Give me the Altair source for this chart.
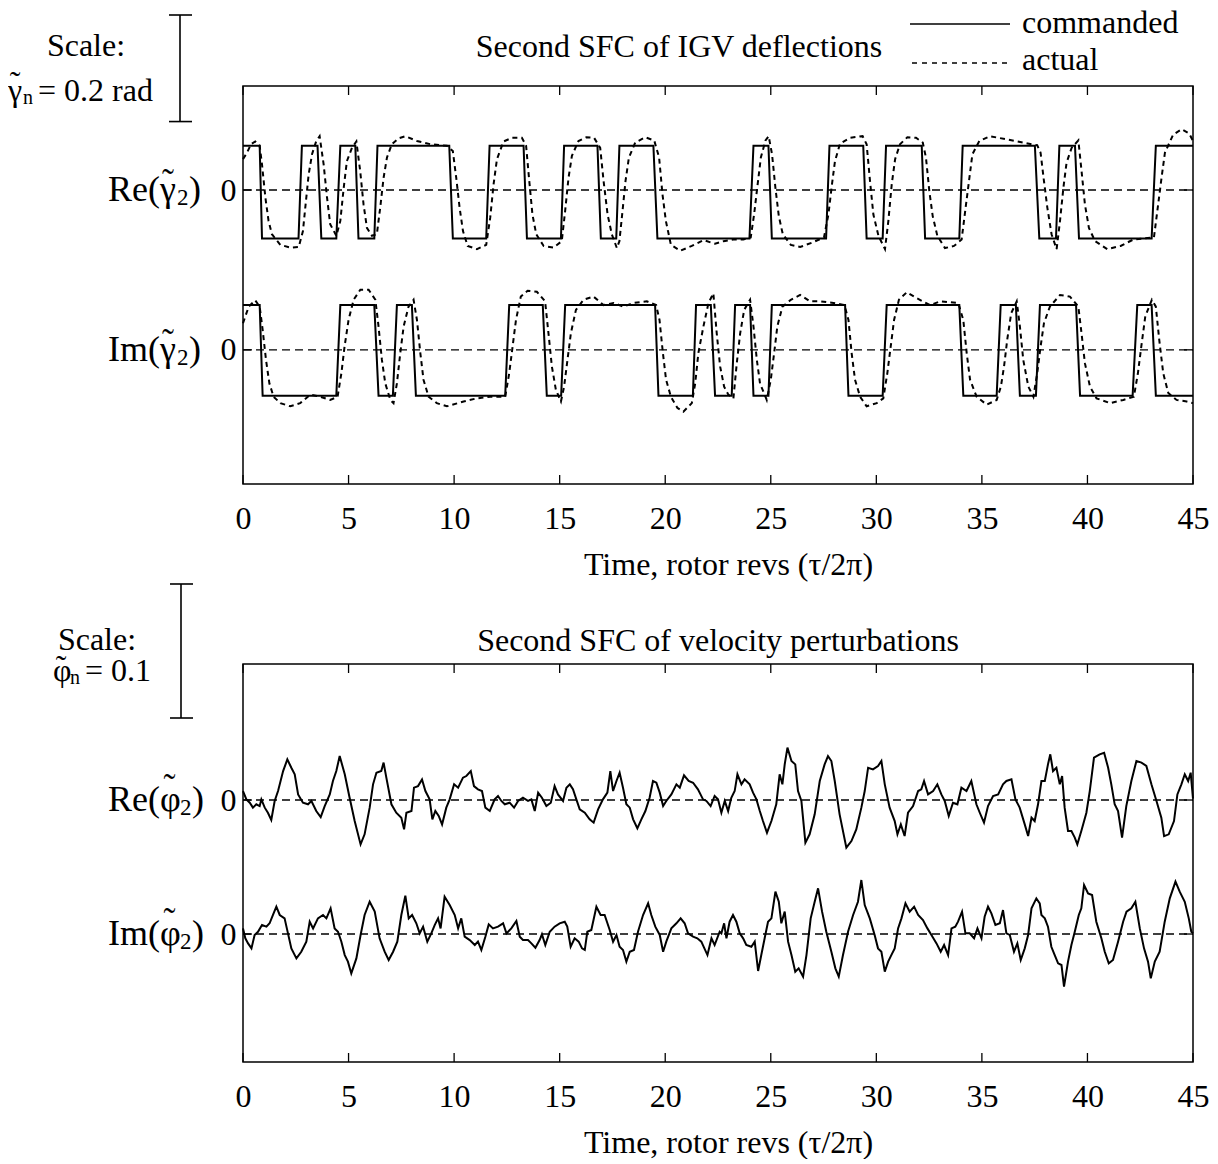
import altair as alt
import pandas as pd

FONT = "Liberation Serif"
FS = 32

# ---------------- top panel: second SFC of IGV deflections (rad) ----------------
RE_HIGH, RE_LOW = 0.083, -0.091
IM_HIGH, IM_LOW = 0.084, -0.086
IGV_IM_OFFSET = -0.30

# commanded square waves: (ramp start, ramp end) of every switch; both start high
re_cmd_switches = [(0.79, 0.90), (2.63, 2.79), (3.53, 3.71), (4.42, 4.61), (5.32, 5.47),
                   (6.22, 6.37), (9.77, 9.94), (11.52, 11.68), (13.29, 13.45), (15.06, 15.21),
                   (16.79, 16.95), (17.68, 17.83), (19.44, 19.63), (23.99, 24.18), (24.89, 25.05),
                   (27.62, 27.78), (29.38, 29.54), (30.30, 30.46), (32.15, 32.31), (33.93, 34.09),
                   (37.51, 37.72), (38.51, 38.67), (39.41, 39.60), (43.04, 43.24)]
im_cmd_switches = [(0.79, 0.93), (4.42, 4.61), (6.22, 6.42), (7.10, 7.29), (8.00, 8.19),
                   (12.42, 12.61), (14.20, 14.39), (15.07, 15.26), (19.52, 19.68), (21.31, 21.46),
                   (22.16, 22.36), (23.15, 23.31), (24.02, 24.18), (24.89, 25.05), (28.52, 28.68),
                   (30.30, 30.49), (33.93, 34.12), (35.70, 35.89), (36.61, 36.80), (37.56, 37.75),
                   (39.46, 39.65), (42.14, 42.36), (43.04, 43.24)]

re_act = [(0.0, 0.058), (0.19, 0.070), (0.38, 0.086), (0.58, 0.091), (0.79, 0.083), (0.90, 0.048),
          (1.06, -0.014), (1.21, -0.058), (1.37, -0.083), (1.77, -0.103), (2.24, -0.108), (2.64, -0.107),
          (2.84, -0.077), (2.95, -0.033), (3.11, 0.029), (3.27, 0.067), (3.47, 0.092), (3.63, 0.101),
          (3.82, 0.048), (3.98, -0.014), (4.13, -0.064), (4.42, -0.086), (4.61, -0.058), (4.77, 0.004),
          (4.92, 0.054), (5.16, 0.079), (5.37, 0.091), (5.55, 0.036), (5.71, -0.027), (5.87, -0.071),
          (6.11, -0.086), (6.34, -0.083), (6.50, -0.033), (6.66, 0.023), (6.82, 0.061), (7.05, 0.086),
          (7.37, 0.097), (7.69, 0.101), (8.24, 0.092), (8.87, 0.086), (9.66, 0.083), (9.94, 0.073),
          (10.10, 0.023), (10.26, -0.033), (10.42, -0.077), (10.64, -0.105), (11.08, -0.111), (11.52, -0.103),
          (11.71, -0.052), (11.87, 0.011), (12.03, 0.058), (12.34, 0.091), (12.74, 0.098), (13.21, 0.098),
          (13.41, 0.083), (13.56, 0.017), (13.71, -0.046), (13.89, -0.083), (14.24, -0.105), (14.71, -0.108),
          (15.10, -0.096), (15.26, -0.039), (15.42, 0.023), (15.58, 0.064), (15.89, 0.092), (16.26, 0.099),
          (16.63, 0.098), (16.92, 0.079), (17.08, 0.017), (17.27, -0.046), (17.47, -0.083), (17.71, -0.109),
          (17.83, -0.096), (17.96, -0.046), (18.12, 0.017), (18.28, 0.061), (18.58, 0.089), (19.05, 0.099),
          (19.48, 0.093), (19.71, 0.061), (19.87, -0.008), (20.03, -0.058), (20.27, -0.103), (20.71, -0.114),
          (21.26, -0.105), (21.81, -0.094), (22.36, -0.101), (22.76, -0.096), (23.23, -0.093), (23.70, -0.093),
          (24.05, -0.089), (24.21, -0.046), (24.37, 0.008), (24.53, 0.061), (24.75, 0.093), (24.90, 0.101),
          (25.06, 0.067), (25.22, 0.004), (25.38, -0.049), (25.57, -0.083), (25.95, -0.103), (26.39, -0.107),
          (26.94, -0.099), (27.52, -0.089), (27.73, -0.046), (27.89, 0.008), (28.04, 0.054), (28.28, 0.087),
          (28.75, 0.098), (29.35, 0.101), (29.54, 0.086), (29.70, 0.017), (29.86, -0.046), (30.10, -0.086),
          (30.41, -0.111), (30.57, -0.058), (30.73, 0.011), (30.89, 0.058), (31.12, 0.086), (31.47, 0.099),
          (31.88, 0.098), (32.20, 0.089), (32.35, 0.061), (32.51, -0.002), (32.67, -0.049), (32.89, -0.086),
          (33.25, -0.109), (33.68, -0.105), (34.04, -0.093), (34.23, -0.033), (34.39, 0.017), (34.55, 0.067),
          (34.88, 0.092), (35.38, 0.101), (36.17, 0.095), (36.96, 0.089), (37.62, 0.084), (37.78, 0.070),
          (37.94, 0.017), (38.10, -0.033), (38.30, -0.083), (38.54, -0.111), (38.70, -0.058), (38.86, 0.004),
          (39.01, 0.051), (39.25, 0.079), (39.57, 0.093), (39.72, 0.036), (39.88, -0.027), (40.07, -0.071),
          (40.36, -0.096), (40.94, -0.111), (41.57, -0.105), (42.17, -0.093), (43.15, -0.089), (43.35, -0.027),
          (43.51, 0.023), (43.67, 0.070), (44.06, 0.104), (44.46, 0.114), (44.82, 0.106), (45.0, 0.092)]

im_act = [(0.0, 0.050), (0.27, 0.081), (0.58, 0.093), (0.79, 0.081), (0.93, 0.038), (1.09, -0.019),
          (1.25, -0.063), (1.45, -0.088), (1.77, -0.100), (2.24, -0.106), (2.71, -0.100), (3.19, -0.084),
          (3.66, -0.088), (4.13, -0.094), (4.48, -0.088), (4.66, -0.044), (4.81, 0.006), (5.00, 0.056),
          (5.24, 0.094), (5.56, 0.113), (5.95, 0.113), (6.27, 0.094), (6.42, 0.044), (6.58, -0.019),
          (6.74, -0.063), (6.98, -0.094), (7.13, -0.100), (7.29, -0.063), (7.45, -0.006), (7.61, 0.044),
          (7.84, 0.081), (8.08, 0.094), (8.24, 0.056), (8.40, -0.006), (8.55, -0.056), (8.79, -0.088),
          (9.18, -0.100), (9.66, -0.106), (10.45, -0.097), (11.08, -0.091), (11.71, -0.088), (12.42, -0.088),
          (12.61, -0.044), (12.77, 0.006), (12.93, 0.056), (13.16, 0.100), (13.48, 0.111), (13.92, 0.109),
          (14.31, 0.091), (14.47, 0.031), (14.63, -0.031), (14.82, -0.075), (15.06, -0.097), (15.21, -0.069),
          (15.37, -0.019), (15.53, 0.031), (15.77, 0.075), (16.13, 0.094), (16.60, 0.100), (17.08, 0.084),
          (17.55, 0.088), (18.02, 0.081), (18.50, 0.088), (19.13, 0.091), (19.57, 0.084), (19.73, 0.056),
          (19.89, -0.006), (20.04, -0.056), (20.27, -0.088), (20.58, -0.109), (20.86, -0.116), (21.26, -0.100),
          (21.42, -0.063), (21.57, -0.006), (21.81, 0.044), (22.05, 0.088), (22.28, 0.106), (22.44, 0.031),
          (22.60, -0.031), (22.79, -0.069), (22.99, -0.084), (23.23, -0.091), (23.39, -0.025), (23.55, 0.031),
          (23.74, 0.075), (24.02, 0.094), (24.18, 0.044), (24.34, -0.019), (24.49, -0.063), (24.81, -0.094),
          (25.00, -0.056), (25.16, -0.006), (25.31, 0.044), (25.55, 0.081), (25.95, 0.094), (26.39, 0.103),
          (26.86, 0.091), (27.33, 0.091), (27.97, 0.088), (28.49, 0.084), (28.68, 0.056), (28.83, -0.006),
          (28.99, -0.056), (29.23, -0.088), (29.54, -0.106), (30.02, -0.100), (30.33, -0.091), (30.52, -0.044),
          (30.68, 0.006), (30.84, 0.056), (31.07, 0.094), (31.44, 0.108), (31.91, 0.097), (32.54, 0.084),
          (33.02, 0.091), (33.88, 0.088), (34.12, 0.056), (34.28, -0.006), (34.44, -0.056), (34.75, -0.088),
          (35.23, -0.103), (35.70, -0.094), (35.90, -0.069), (36.05, -0.031), (36.20, 0.019), (36.39, 0.069),
          (36.65, 0.091), (36.80, 0.044), (36.96, -0.019), (37.20, -0.069), (37.44, -0.088), (37.62, -0.044),
          (37.78, 0.006), (37.94, 0.050), (38.22, 0.081), (38.70, 0.103), (39.17, 0.100), (39.57, 0.081),
          (39.72, 0.031), (39.88, -0.025), (40.12, -0.069), (40.43, -0.091), (41.07, -0.100), (41.70, -0.094),
          (42.20, -0.088), (42.39, -0.044), (42.55, 0.006), (42.74, 0.063), (43.05, 0.094), (43.24, 0.081),
          (43.40, 0.019), (43.59, -0.044), (43.83, -0.081), (44.22, -0.094), (44.70, -0.097), (45.0, -0.100)]

# ---------------- bottom panel: second SFC of velocity perturbations ----------------
PHI_IM_OFFSET = -0.10

phi_re = [(0.00, 0.0067), (0.16, 0.0005), (0.32, -0.0020), (0.47, -0.0057), (0.63, -0.0032), (0.79, -0.0045),
          (0.87, 0.0005), (1.03, -0.0057), (1.18, -0.0095), (1.34, -0.0149), (1.50, -0.0007), (1.66, 0.0067),
          (1.90, 0.0216), (2.10, 0.0303), (2.29, 0.0241), (2.45, 0.0192), (2.61, 0.0042), (2.84, -0.0020),
          (3.08, -0.0032), (3.24, -0.0007), (3.47, -0.0082), (3.68, -0.0127), (3.87, -0.0045), (4.11, 0.0042),
          (4.26, 0.0142), (4.42, 0.0216), (4.58, 0.0328), (4.82, 0.0192), (5.05, 0.0017), (5.29, -0.0157),
          (5.57, -0.0331), (5.76, -0.0256), (6.00, -0.0057), (6.16, 0.0117), (6.32, 0.0204), (6.55, 0.0216),
          (6.66, 0.0279), (6.79, 0.0167), (7.03, -0.0032), (7.26, -0.0095), (7.50, -0.0132), (7.63, -0.0219),
          (7.74, -0.0095), (7.98, -0.0082), (8.10, 0.0092), (8.29, 0.0104), (8.48, 0.0154), (8.64, 0.0067),
          (8.84, 0.0005), (8.97, -0.0144), (9.11, -0.0082), (9.27, -0.0119), (9.43, -0.0182), (9.63, -0.0057),
          (9.79, 0.0005), (10.00, 0.0117), (10.19, 0.0092), (10.42, 0.0167), (10.58, 0.0179), (10.79, 0.0216),
          (10.94, 0.0104), (11.13, 0.0080), (11.32, 0.0067), (11.48, -0.0057), (11.69, -0.0082), (11.92, 0.0005),
          (12.08, 0.0030), (12.24, -0.0007), (12.40, -0.0032), (12.63, -0.0020), (12.84, -0.0057), (13.03, -0.0007),
          (13.26, 0.0017), (13.50, -0.0007), (13.66, 0.0005), (13.82, -0.0082), (13.98, 0.0055), (14.16, 0.0017),
          (14.37, -0.0045), (14.58, -0.0020), (14.76, 0.0104), (14.92, 0.0042), (15.16, -0.0007), (15.32, 0.0092),
          (15.48, 0.0117), (15.63, 0.0080), (15.79, 0.0005), (15.95, -0.0070), (16.19, -0.0095), (16.42, -0.0144),
          (16.61, -0.0169), (16.82, -0.0070), (17.05, 0.0005), (17.26, 0.0055), (17.40, 0.0216), (17.53, 0.0067),
          (17.69, 0.0142), (17.84, 0.0204), (18.00, 0.0092), (18.16, -0.0032), (18.32, -0.0057), (18.48, -0.0144),
          (18.68, -0.0211), (18.87, -0.0144), (19.06, -0.0082), (19.26, 0.0017), (19.42, 0.0142), (19.58, 0.0129),
          (19.74, 0.0055), (19.90, -0.0045), (20.05, -0.0007), (20.29, 0.0042), (20.53, 0.0117), (20.69, 0.0092),
          (20.89, 0.0184), (21.11, 0.0142), (21.32, 0.0129), (21.55, 0.0080), (21.79, 0.0005), (21.95, -0.0007),
          (22.15, -0.0045), (22.34, 0.0030), (22.50, 0.0005), (22.66, -0.0095), (22.82, -0.0007), (22.98, -0.0082),
          (23.13, 0.0017), (23.29, 0.0067), (23.42, 0.0192), (23.61, 0.0117), (23.76, 0.0154), (24.00, 0.0117),
          (24.16, 0.0055), (24.32, 0.0005), (24.48, -0.0082), (24.63, -0.0157), (24.82, -0.0244), (25.03, -0.0157),
          (25.26, -0.0032), (25.42, 0.0192), (25.55, 0.0117), (25.66, 0.0266), (25.79, 0.0391), (25.98, 0.0291),
          (26.16, 0.0266), (26.29, 0.0067), (26.45, -0.0007), (26.64, -0.0318), (26.84, -0.0256), (27.08, -0.0107),
          (27.32, 0.0142), (27.55, 0.0266), (27.71, 0.0328), (27.87, 0.0291), (28.03, 0.0142), (28.26, -0.0107),
          (28.58, -0.0356), (28.82, -0.0306), (29.05, -0.0219), (29.29, -0.0057), (29.45, 0.0067), (29.61, 0.0241),
          (29.84, 0.0229), (30.08, 0.0254), (30.24, 0.0291), (30.40, 0.0117), (30.63, -0.0057), (30.87, -0.0157),
          (31.00, -0.0256), (31.16, -0.0182), (31.34, -0.0269), (31.50, -0.0095), (31.74, -0.0045), (31.98, 0.0067),
          (32.13, 0.0080), (32.26, 0.0142), (32.45, 0.0042), (32.69, 0.0067), (32.89, 0.0117), (33.08, 0.0042),
          (33.24, -0.0007), (33.43, -0.0119), (33.63, -0.0020), (33.84, -0.0032), (34.03, 0.0092), (34.27, 0.0067),
          (34.50, 0.0142), (34.74, -0.0032), (34.90, -0.0095), (35.10, -0.0169), (35.29, -0.0045), (35.53, 0.0030),
          (35.77, 0.0042), (36.00, 0.0117), (36.16, 0.0142), (36.40, 0.0154), (36.59, 0.0005), (36.79, -0.0057),
          (37.03, -0.0182), (37.19, -0.0269), (37.35, -0.0132), (37.50, -0.0157), (37.66, -0.0032), (37.82, 0.0142),
          (37.98, 0.0142), (38.13, 0.0266), (38.24, 0.0341), (38.37, 0.0216), (38.53, 0.0241), (38.69, 0.0117),
          (38.80, 0.0179), (38.92, -0.0057), (39.08, -0.0231), (39.24, -0.0231), (39.40, -0.0281), (39.52, -0.0331),
          (39.71, -0.0231), (39.95, -0.0095), (40.11, 0.0067), (40.31, 0.0316), (40.58, 0.0341), (40.79, 0.0353),
          (40.98, 0.0241), (41.13, 0.0117), (41.29, -0.0032), (41.45, -0.0082), (41.64, -0.0281), (41.84, -0.0045),
          (42.08, 0.0142), (42.32, 0.0291), (42.56, 0.0279), (42.79, 0.0254), (43.03, 0.0117), (43.27, -0.0007),
          (43.50, -0.0132), (43.63, -0.0269), (43.85, -0.0256), (44.10, -0.0157), (44.26, 0.0042), (44.45, 0.0117),
          (44.61, 0.0192), (44.77, 0.0142), (44.89, 0.0204), (45.00, 0.0010)]

phi_im = [(0.00, 0.0042), (0.11, -0.0032), (0.24, -0.0070), (0.40, -0.0107), (0.55, -0.0007), (0.71, 0.0017),
          (0.90, 0.0067), (1.11, 0.0055), (1.26, 0.0080), (1.42, 0.0142), (1.58, 0.0204), (1.74, 0.0142),
          (1.97, 0.0117), (2.13, 0.0005), (2.29, -0.0107), (2.53, -0.0182), (2.76, -0.0132), (3.00, -0.0057),
          (3.16, 0.0092), (3.32, 0.0042), (3.55, 0.0117), (3.79, 0.0142), (3.95, 0.0117), (4.15, 0.0192),
          (4.34, 0.0042), (4.50, 0.0017), (4.66, -0.0057), (4.82, -0.0157), (4.97, -0.0206), (5.13, -0.0294),
          (5.37, -0.0182), (5.57, -0.0007), (5.76, 0.0142), (6.00, 0.0241), (6.24, 0.0167), (6.47, -0.0032),
          (6.71, -0.0132), (6.90, -0.0194), (7.11, -0.0132), (7.31, -0.0057), (7.50, 0.0142), (7.69, 0.0286),
          (7.85, 0.0117), (8.01, 0.0142), (8.21, 0.0080), (8.37, 0.0005), (8.53, 0.0055), (8.73, -0.0057),
          (8.92, 0.0005), (9.08, 0.0067), (9.24, 0.0117), (9.36, 0.0042), (9.55, 0.0279), (9.79, 0.0216),
          (10.03, 0.0142), (10.19, 0.0042), (10.34, 0.0117), (10.50, -0.0020), (10.74, -0.0045), (10.98, -0.0082),
          (11.13, -0.0057), (11.29, -0.0119), (11.48, -0.0020), (11.64, 0.0072), (11.84, 0.0042), (12.08, 0.0055),
          (12.32, 0.0080), (12.48, 0.0005), (12.71, 0.0042), (12.95, 0.0097), (13.11, -0.0020), (13.26, -0.0045),
          (13.50, -0.0045), (13.66, -0.0070), (13.85, -0.0102), (14.05, -0.0045), (14.16, -0.0002), (14.32, -0.0082),
          (14.53, 0.0017), (14.76, 0.0055), (15.00, 0.0080), (15.24, 0.0092), (15.36, 0.0055), (15.52, -0.0095),
          (15.71, -0.0032), (15.90, -0.0057), (16.06, -0.0107), (16.19, -0.0119), (16.31, 0.0017), (16.50, 0.0030),
          (16.74, 0.0204), (16.94, 0.0142), (17.13, 0.0142), (17.37, 0.0030), (17.53, -0.0057), (17.69, -0.0007),
          (17.84, -0.0095), (18.00, -0.0119), (18.16, -0.0206), (18.32, -0.0132), (18.52, -0.0119), (18.71, 0.0017),
          (18.95, 0.0142), (19.19, 0.0229), (19.34, 0.0142), (19.53, 0.0055), (19.74, -0.0007), (19.90, -0.0132),
          (20.05, -0.0057), (20.29, 0.0042), (20.53, 0.0080), (20.73, 0.0117), (20.92, 0.0080), (21.08, 0.0005),
          (21.32, -0.0020), (21.52, -0.0032), (21.71, -0.0057), (22.00, -0.0157), (22.19, -0.0032), (22.34, -0.0082),
          (22.58, 0.0017), (22.66, 0.0005), (22.79, 0.0080), (22.90, -0.0032), (23.05, 0.0092), (23.21, 0.0142),
          (23.37, 0.0092), (23.53, 0.0005), (23.69, -0.0032), (23.84, -0.0082), (24.08, -0.0095), (24.24, -0.0057),
          (24.40, -0.0276), (24.55, -0.0157), (24.71, -0.0032), (24.87, 0.0092), (25.03, 0.0117), (25.22, 0.0316),
          (25.38, 0.0241), (25.50, 0.0080), (25.66, 0.0167), (25.82, -0.0057), (25.98, -0.0157), (26.16, -0.0281),
          (26.32, -0.0256), (26.53, -0.0318), (26.69, -0.0157), (26.89, 0.0117), (27.08, 0.0241), (27.24, 0.0341),
          (27.43, 0.0167), (27.63, 0.0017), (27.87, -0.0132), (28.06, -0.0256), (28.22, -0.0318), (28.42, -0.0157),
          (28.66, 0.0017), (28.90, 0.0142), (29.13, 0.0241), (29.29, 0.0403), (29.45, 0.0216), (29.69, 0.0117),
          (29.92, -0.0007), (30.08, -0.0107), (30.24, -0.0132), (30.40, -0.0281), (30.56, -0.0206), (30.71, -0.0157),
          (30.87, -0.0107), (31.03, 0.0042), (31.19, 0.0117), (31.38, 0.0229), (31.58, 0.0167), (31.79, 0.0204),
          (31.98, 0.0142), (32.21, 0.0104), (32.42, 0.0042), (32.61, -0.0007), (32.85, -0.0070), (33.05, -0.0132),
          (33.21, -0.0082), (33.40, -0.0157), (33.56, 0.0042), (33.74, 0.0055), (33.87, 0.0092), (34.06, 0.0167),
          (34.22, 0.0005), (34.42, 0.0005), (34.63, -0.0032), (34.79, 0.0042), (34.98, -0.0032), (35.13, 0.0129),
          (35.29, 0.0204), (35.45, 0.0154), (35.64, 0.0067), (35.85, 0.0080), (36.00, 0.0179), (36.16, 0.0005),
          (36.32, -0.0007), (36.52, -0.0132), (36.68, -0.0070), (36.84, -0.0194), (37.03, -0.0107), (37.19, -0.0007),
          (37.35, 0.0192), (37.58, 0.0266), (37.74, 0.0229), (37.82, 0.0142), (37.98, 0.0117), (38.13, 0.0055),
          (38.29, -0.0095), (38.45, -0.0157), (38.61, -0.0219), (38.77, -0.0231), (38.89, -0.0393), (39.08, -0.0206),
          (39.24, -0.0082), (39.40, 0.0017), (39.59, 0.0142), (39.71, 0.0192), (39.84, 0.0366), (40.03, 0.0303),
          (40.22, 0.0291), (40.42, 0.0092), (40.66, -0.0032), (40.82, -0.0132), (41.01, -0.0219), (41.21, -0.0194),
          (41.45, -0.0057), (41.69, 0.0092), (41.85, 0.0167), (42.08, 0.0192), (42.27, 0.0241), (42.48, 0.0042),
          (42.68, -0.0107), (42.87, -0.0206), (43.00, -0.0331), (43.19, -0.0206), (43.42, -0.0132), (43.66, 0.0092),
          (43.90, 0.0266), (44.17, 0.0391), (44.37, 0.0316), (44.61, 0.0241), (44.80, 0.0117), (44.92, 0.0017),
          (45.00, 0.0005)]

x_ticks = [0, 5, 10, 15, 20, 25, 30, 35, 40, 45]
IGV_SCALE = 0.2      # rad, scale bar of top panel
PHI_SCALE = 0.1      # scale bar of bottom panel

# ---------------- layout constants (pixels) ----------------
W, H = 950, 398
TOP_DOMAIN = [-0.5518, 0.1952]
BOT_DOMAIN = [-0.1955, 0.1015]
TICK = 9
TILDE = "\u02dc"
LW = 2.0


def square(switches, hi, lo):
    pts, state = [(0.0, hi)], True
    for a, b in switches:
        pts.append((a, hi if state else lo))
        state = not state
        pts.append((b, hi if state else lo))
    pts.append((45.0, hi if state else lo))
    return pts


def frame(pairs, name, offset=0.0):
    return pd.DataFrame({"t": [p[0] for p in pairs], "v": [p[1] + offset for p in pairs], "s": name})


one = pd.DataFrame({"k": [0]})


def txt(s, x, y, align="center", size=FS, dy=0):
    return alt.Chart(one).mark_text(text=s, align=align, baseline="middle", font=FONT, dy=dy,
                                    fontSize=size, color="black").encode(x=alt.value(x), y=alt.value(y))


def hrule(x1, x2, y, dash=None):
    kw = dict(color="black", strokeWidth=1.6)
    if dash:
        kw["strokeDash"] = dash
    return alt.Chart(one).mark_rule(**kw).encode(x=alt.value(x1), x2=alt.value(x2), y=alt.value(y))


def symbol_with_tilde(letter, sub, x, y, tilde_dy, sub_size=20, sub_dy=7, letter_w=14, size=FS):
    """letter with a tilde above and a subscript"""
    return [txt(letter, x, y, align="left", size=size),
            txt(TILDE, x + letter_w / 2, y, align="center", size=size, dy=tilde_dy),
            txt(sub, x + letter_w + 1, y, align="left", size=sub_size, dy=sub_dy)]


xscale = alt.Scale(domain=[0, 45], nice=False, zero=False)
xaxis = alt.Axis(values=x_ticks, ticks=False, domain=False, grid=False, labelFont=FONT, labelFontSize=FS,
                 labelColor="black", labelPadding=19, labelFlush=False,
                 title="Time, rotor revs (τ/2π)", titleFont=FONT, titleFontSize=FS,
                 titleFontWeight="normal", titleColor="black", titlePadding=15, titleX=485)

LFS = 36  # font size of the Re(.)/Im(.) row labels


def panel(domain, offset, letter, letter_w, tilde_dy, lines, bar, scale_len, texts, label_x):
    yaxis = alt.Axis(values=[0, offset], ticks=False, domain=False, grid=False, labelFont=FONT,
                     labelFontSize=FS, labelColor="black", labelPadding=7, labelExpr="'0'")
    X = alt.X("t:Q", scale=xscale, axis=xaxis)
    Y = alt.Y("v:Q", scale=alt.Scale(domain=domain, nice=False, zero=False), axis=yaxis, title=None)

    zeros = alt.Chart(pd.DataFrame({"v": [0.0, offset]})).mark_rule(
        color="black", strokeWidth=1.3, strokeDash=[8, 5]).encode(y=Y, x=alt.value(0), x2=alt.value(W))
    layers = [zeros]
    for df, dash in lines:
        kw = dict(color="black", strokeWidth=LW)
        if dash:
            kw["strokeDash"] = dash
        layers.append(alt.Chart(df).mark_line(**kw).encode(x=X, y=Y, detail="s:N"))
    xt = pd.DataFrame({"t": x_ticks})
    layers.append(alt.Chart(xt).mark_rule(color="black", strokeWidth=1.3).encode(
        x=X, y=alt.value(H), y2=alt.value(H - TICK)))
    layers.append(alt.Chart(xt).mark_rule(color="black", strokeWidth=1.3).encode(
        x=X, y=alt.value(0), y2=alt.value(TICK)))
    yt = pd.DataFrame({"v": [0.0, offset]})
    layers.append(alt.Chart(yt).mark_rule(color="black", strokeWidth=1.3).encode(
        y=Y, x=alt.value(0), x2=alt.value(TICK)))
    layers.append(alt.Chart(yt).mark_rule(color="black", strokeWidth=1.3).encode(
        y=Y, x=alt.value(W), x2=alt.value(W - TICK)))
    # row labels Re(.) / Im(.) built from pieces so the tilde sits over the greek letter
    for val, pre in [(0.0, "Re("), (offset, "Im(")]:
        row = pd.DataFrame({"v": [val]})

        def piece(s, x, align="left", size=LFS, dy=0):
            return alt.Chart(row).mark_text(text=s, align=align, baseline="middle", font=FONT,
                                            fontSize=size, dy=dy, color="black").encode(
                x=alt.value(x), y=Y)
        x0 = label_x
        layers += [piece(pre, x0, align="right"),
                   piece(letter, x0),
                   piece(TILDE, x0 + letter_w / 2, align="center", dy=tilde_dy),
                   piece("2", x0 + letter_w + 1, size=23, dy=8),
                   piece(")", x0 + letter_w + 13)]
    # scale bar
    bx, btop = bar
    layers.append(alt.Chart(pd.DataFrame({"v": [btop], "v2": [btop - scale_len]})).mark_rule(
        color="black", strokeWidth=1.6).encode(y=Y, y2="v2:Q", x=alt.value(bx)))
    layers.append(alt.Chart(pd.DataFrame({"v": [btop, btop - scale_len]})).mark_rule(
        color="black", strokeWidth=1.6).encode(y=Y, x=alt.value(bx - 11), x2=alt.value(bx + 12)))
    layers += texts
    return alt.layer(*layers).properties(width=W, height=H)


re_cmd = square(re_cmd_switches, RE_HIGH, RE_LOW)
im_cmd = square(im_cmd_switches, IM_HIGH, IM_LOW)
cmd_df = pd.concat([frame(re_cmd, "re"), frame(im_cmd, "im", IGV_IM_OFFSET)])
act_df = pd.concat([frame(re_act, "re"), frame(im_act, "im", IGV_IM_OFFSET)])

top_texts = [
    txt("Second SFC of IGV deflections", 436, -39),
    hrule(667, 767, -62),
    txt("commanded", 779, -63, align="left"),
    hrule(669, 764, -23, dash=[5, 5]),
    txt("actual", 779, -26, align="left"),
    txt("Scale:", -157, -40),
    txt("= 0.2 rad", -205, 5, align="left"),
    # invisible anchor fixing the top-left corner of the figure
    alt.Chart(one).mark_rule(color="white", strokeWidth=1).encode(
        x=alt.value(-235), x2=alt.value(-234), y=alt.value(-77)),
] + symbol_with_tilde("γ", "n", -235, 5, tilde_dy=-8)
top = panel(TOP_DOMAIN, IGV_IM_OFFSET, "γ", 16, -7,
            [(cmd_df, None), (act_df, [5, 4])],
            (-63, TOP_DOMAIN[1] + 71 / 532.8), IGV_SCALE, top_texts, label_x=-83)

phi_df = pd.concat([frame(phi_re, "re"), frame(phi_im, "im", PHI_IM_OFFSET)])
bot_texts = [
    txt("Second SFC of velocity perturbations", 475, -23),
    txt("Scale:", -146, -24),
    txt("= 0.1", -158, 7, align="left"),
] + symbol_with_tilde("φ", "n", -190, 7, tilde_dy=-4, letter_w=16)
bottom = panel(BOT_DOMAIN, PHI_IM_OFFSET, "φ", 19, -12, [(phi_df, None)],
               (-62, BOT_DOMAIN[1] + 80 / 1340), PHI_SCALE, bot_texts, label_x=-83)

chart = alt.vconcat(top, bottom, spacing=180, bounds="flush").properties(
    padding={"top": -2, "left": -2, "right": 0, "bottom": 0}, background="white"
).configure_view(stroke="black", strokeWidth=1.5)

chart.save("out.html", embed_options={"renderer": "svg", "actions": False})
